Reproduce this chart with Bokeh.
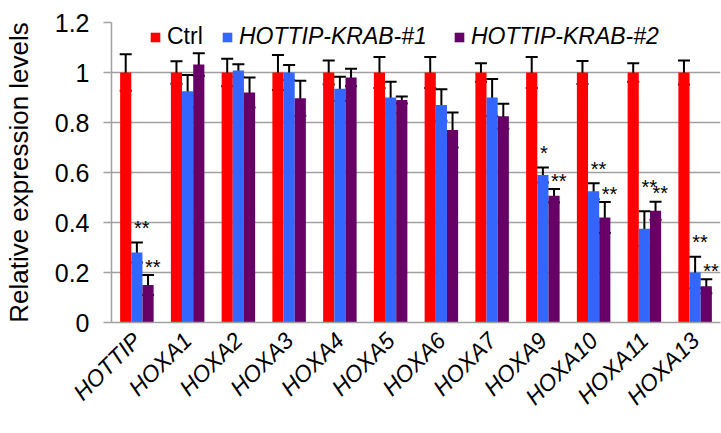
import numpy as np
from bokeh.plotting import figure
from bokeh.models import (ColumnDataSource, FactorRange, Range1d, FixedTicker, Whisker,
                          TeeHead, Legend, LegendItem)
from bokeh.transform import dodge
from bokeh.core.properties import value
from bokeh.embed import file_html
from bokeh.resources import INLINE

categories = ["HOTTIP", "HOXA1", "HOXA2", "HOXA3", "HOXA4", "HOXA5", "HOXA6",
              "HOXA7", "HOXA9", "HOXA10", "HOXA11", "HOXA13"]
ctrl = [1.0, 1.0, 1.0, 1.0, 1.0, 1.0, 1.0, 1.0, 1.0, 1.0, 1.0, 1.0]
ctrl_err = [0.073, 0.045, 0.055, 0.07, 0.048, 0.062, 0.062, 0.037, 0.062, 0.046, 0.037, 0.048]
krab1 = [0.28, 0.925, 1.008, 1.0, 0.935, 0.90, 0.87, 0.90, 0.59, 0.525, 0.375, 0.20]
krab1_err = [0.04, 0.065, 0.025, 0.03, 0.048, 0.063, 0.063, 0.074, 0.03, 0.032, 0.07, 0.063]
krab2 = [0.15, 1.032, 0.92, 0.897, 0.98, 0.89, 0.77, 0.825, 0.507, 0.42, 0.447, 0.145]
krab2_err = [0.04, 0.045, 0.06, 0.07, 0.035, 0.014, 0.07, 0.05, 0.027, 0.062, 0.036, 0.028]
krab1_sig = ["**", "", "", "", "", "", "", "", "*", "**", "**", "**"]
krab2_sig = ["**", "", "", "", "", "", "", "", "**", "**", "**", "**"]
series_names = ["Ctrl", "HOTTIP-KRAB-#1", "HOTTIP-KRAB-#2"]
y_ticks = [0, 0.2, 0.4, 0.6, 0.8, 1.0, 1.2]
y_tick_labels = ["0", "0.2", "0.4", "0.6", "0.8", "1", "1.2"]

RED, BLUE, PURPLE = "#ff0000", "#3366ff", "#660066"
FONT = "Liberation Sans"
OFF = 0.22

c = np.array(ctrl); ce = np.array(ctrl_err)
k1 = np.array(krab1); k1e = np.array(krab1_err)
k2 = np.array(krab2); k2e = np.array(krab2_err)
k1_top = k1 + k1e
k2_top = k2 + k2e

src = ColumnDataSource(dict(
    cats=categories,
    ctrl=c, ctrl_lo=c - ce, ctrl_hi=c + ce,
    k1=k1, k1_lo=k1 - k1e, k1_hi=k1_top,
    k2=k2, k2_lo=k2 - k2e, k2_hi=k2_top,
    k1_sig=krab1_sig, k2_sig=krab2_sig,
    k1_sy=np.maximum(k1_top, k2_top) + 0.075,
    k2_sy=k2_top + 0.05,
))

p = figure(width=721, height=433, output_backend="svg", toolbar_location=None,
           x_range=FactorRange(factors=categories, range_padding=0),
           y_range=Range1d(0, 1.2),
           min_border_left=111, min_border_right=1, min_border_top=22,
           min_border_bottom=111)
p.outline_line_color = None
p.background_fill_color = "white"
p.border_fill_color = "white"

r_c = p.vbar(x=dodge("cats", -OFF, range=p.x_range), top="ctrl", width=OFF,
             source=src, fill_color=RED, line_color=None)
r_1 = p.vbar(x=dodge("cats", 0, range=p.x_range), top="k1", width=OFF,
             source=src, fill_color=BLUE, line_color=None)
r_2 = p.vbar(x=dodge("cats", OFF, range=p.x_range), top="k2", width=OFF,
             source=src, fill_color=PURPLE, line_color=None)

for off, lo, hi in [(-OFF, "ctrl_lo", "ctrl_hi"), (0, "k1_lo", "k1_hi"), (OFF, "k2_lo", "k2_hi")]:
    w = Whisker(base=dodge("cats", off, range=p.x_range), lower=lo, upper=hi, source=src,
                line_color="black", line_width=2,
                upper_head=TeeHead(size=12, line_color="black", line_width=2),
                lower_head=TeeHead(size=12, line_color="black", line_width=2))
    p.add_layout(w)

for off, col, ycol in [(0, "k1_sig", "k1_sy"), (OFF, "k2_sig", "k2_sy")]:
    p.text(x=dodge("cats", off, range=p.x_range), y=ycol, text=col, source=src,
           text_font=value(FONT), text_font_size="20px", text_color="black",
           text_align="left", text_baseline="alphabetic", x_offset=-3, y_offset=4)

# axes
p.xgrid.grid_line_color = None
p.ygrid.grid_line_color = "#a0a0a0"
p.ygrid.grid_line_width = 1.5
p.yaxis.ticker = FixedTicker(ticks=y_ticks)
p.yaxis.major_label_overrides = {t: l for t, l in zip(y_ticks, y_tick_labels)}
p.yaxis.axis_line_color = "#a0a0a0"
p.yaxis.axis_line_width = 1.5
p.yaxis.major_tick_line_color = "#a0a0a0"
p.yaxis.major_tick_line_width = 1.5
p.yaxis.major_tick_out = 8
p.yaxis.major_tick_in = 0
p.yaxis.minor_tick_line_color = None
p.yaxis.major_label_text_font = FONT
p.yaxis.major_label_text_font_size = "25px"
p.yaxis.major_label_text_color = "black"
p.yaxis.major_label_standoff = 14
p.yaxis.axis_label = "Relative expression levels"
p.yaxis.axis_label_text_font = FONT
p.yaxis.axis_label_text_font_size = "26px"
p.yaxis.axis_label_text_font_style = "normal"
p.yaxis.axis_label_text_color = "black"
p.yaxis.axis_label_standoff = 18

p.xaxis.axis_line_color = "#a0a0a0"
p.xaxis.axis_line_width = 1.5
p.xaxis.major_tick_line_color = None
p.xaxis.minor_tick_line_color = None
p.xaxis.major_label_orientation = np.pi / 4
p.xaxis.major_label_text_font = FONT
p.xaxis.major_label_text_font_size = "23px"
p.xaxis.major_label_text_font_style = "italic"
p.xaxis.major_label_text_color = "black"
p.xaxis.major_label_standoff = 8

def make_legend(name, rend, loc, style):
    lg = Legend(items=[LegendItem(label=name, renderers=[rend])], location=loc,
                orientation="horizontal", padding=0, margin=0, spacing=0,
                border_line_color=None, background_fill_alpha=0,
                glyph_width=12, glyph_height=12, label_standoff=6,
                label_height=22, label_text_font=FONT, label_text_font_size="23px",
                label_text_font_style=style, label_text_color="black")
    p.add_layout(lg, "center")

make_legend(series_names[0], r_c, (38, 272), "normal")
make_legend(series_names[1], r_1, (110, 272), "italic")
make_legend(series_names[2], r_2, (342, 272), "italic")

open("out.html", "w").write(file_html(p, INLINE))
